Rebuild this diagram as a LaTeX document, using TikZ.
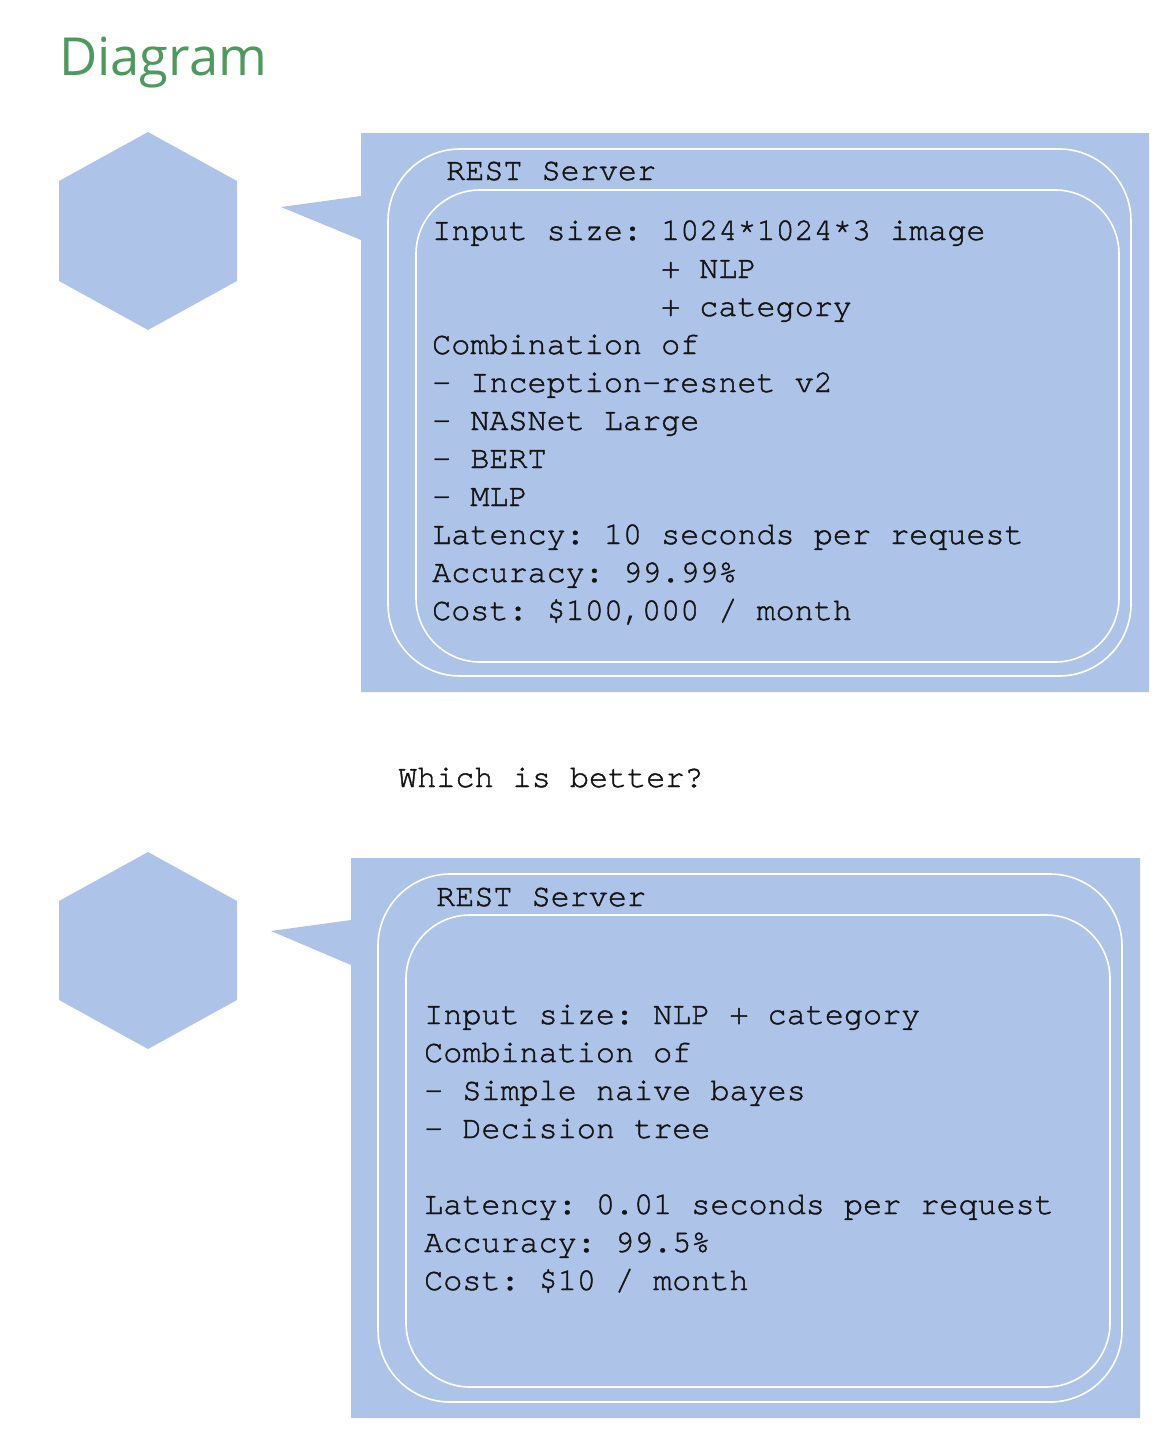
\documentclass[tikz,border=0pt]{standalone}
\usepackage{fontspec}
\setmainfont{Open Sans}
\setmonofont{TeX Gyre Cursor}[FakeBold=1.3]
\definecolor{boxblue}{HTML}{AEC3E8}
\definecolor{titlegreen}{HTML}{4E9A5E}
\definecolor{txt}{HTML}{141414}
\tikzset{
  callout/.style={fill=boxblue, draw=none},
  hexa/.style={fill=boxblue, draw=none},
  ring/.style={draw=white, line width=1.6pt},
  mono/.style={anchor=base west, inner sep=0pt, text=txt, font=\ttfamily\fontsize{31.8}{38}\selectfont},
}
\begin{document}
\begin{tikzpicture}[x=1pt,y=-1pt]
\useasboundingbox (0,0) rectangle (1169,1454);
\node[anchor=base west, inner sep=0pt, text=titlegreen, font=\fontsize{52.5}{56}\selectfont] (title) at (59,75) {Diagram};

% top group
\fill[hexa] (148,132) -- (237,181) -- (237,281) -- (148,330) -- (59,281) -- (59,181) -- cycle;
\fill[callout] (361,133) -- (1149,133) -- (1149,692) -- (361,692) -- (361,240) -- (281,207) -- (361,196) -- cycle;
\draw[ring, rounded corners=72pt] (388,149) rectangle (1131,676);
\draw[ring, rounded corners=64pt] (416,190) rectangle (1119,662);
\node[mono] (a0) at (446,180) {REST Server};
\node[mono] (a1) at (432,240) {Input size: 1024*1024*3 image};
\node[mono] (a2) at (432,278) {\hspace*{7.2em}+ NLP};
\node[mono] (a3) at (432,316) {\hspace*{7.2em}+ category};
\node[mono] (a4) at (432,354) {Combination of};
\node[mono] (a5) at (432,392) {- Inception-resnet v2};
\node[mono] (a6) at (432,430) {- NASNet Large};
\node[mono] (a7) at (432,468) {- BERT};
\node[mono] (a8) at (432,506) {- MLP};
\node[mono] (a9) at (432,544) {Latency: 10 seconds per request};
\node[mono] (a10) at (432,582) {Accuracy: 99.99\%};
\node[mono] (a11) at (432,620) {Cost: \$100,000 / month};

\node[mono] (q) at (398,787) {Which is better?};

% bottom group
\fill[hexa] (148,852) -- (237,901) -- (237,1000) -- (148,1049) -- (59,1000) -- (59,901) -- cycle;
\fill[callout] (351,858) -- (1140,858) -- (1140,1418) -- (351,1418) -- (351,965) -- (271,931) -- (351,920) -- cycle;
\draw[ring, rounded corners=72pt] (378,874) rectangle (1122,1402);
\draw[ring, rounded corners=64pt] (406,915) rectangle (1110,1387);
\node[mono] (b0) at (436,906) {REST Server};
\node[mono] (b1) at (424,1024) {Input size: NLP + category};
\node[mono] (b2) at (424,1062) {Combination of};
\node[mono] (b3) at (424,1100) {- Simple naive bayes};
\node[mono] (b4) at (424,1138) {- Decision tree};
\node[mono] (b5) at (424,1214) {Latency: 0.01 seconds per request};
\node[mono] (b6) at (424,1252) {Accuracy: 99.5\%};
\node[mono] (b7) at (424,1290) {Cost: \$10 / month};
\end{tikzpicture}
\end{document}
